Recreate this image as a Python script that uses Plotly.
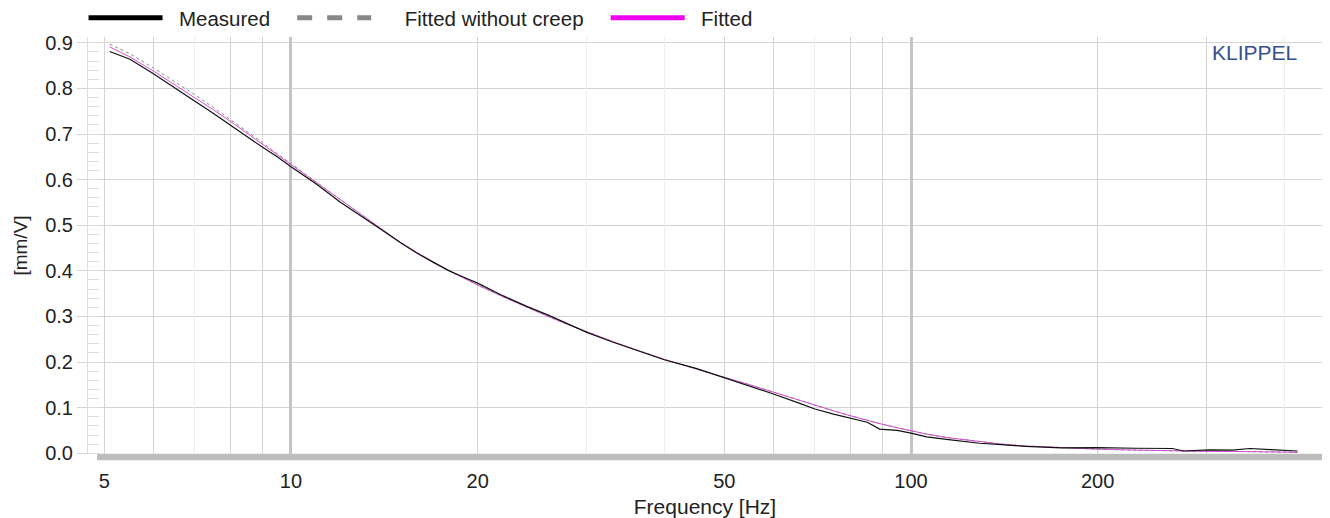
import plotly.graph_objects as go

# frequency points [Hz]
freq = [5.1, 5.5, 6, 6.5, 7, 7.5, 8, 8.5, 9, 9.5, 10, 11, 12, 13, 14, 15, 16, 17, 18, 19,
        20, 22, 24, 26, 28, 30, 33, 36, 40, 45, 50, 55, 60, 66, 70, 75, 80, 85, 89, 95,
        100, 106, 115, 129, 140, 153, 175, 200, 230, 264, 275, 303, 330, 352, 380, 420]

# displacement transfer function [mm/V]
measured = [0.881, 0.864, 0.832, 0.800, 0.772, 0.745, 0.718, 0.694, 0.671, 0.650,
            0.628, 0.590, 0.551, 0.520, 0.490, 0.462, 0.438, 0.418, 0.400, 0.386,
            0.373, 0.345, 0.322, 0.303, 0.283, 0.265, 0.244, 0.226, 0.205, 0.186,
            0.166, 0.148, 0.130, 0.110, 0.097, 0.086, 0.077, 0.068, 0.053, 0.050,
            0.044, 0.036, 0.030, 0.022, 0.019, 0.015, 0.012, 0.0125, 0.011, 0.0105,
            0.005, 0.0075, 0.007, 0.0105, 0.008, 0.005]

fitted = [0.891, 0.869, 0.838, 0.808, 0.780, 0.753, 0.727, 0.702, 0.678, 0.655,
          0.633, 0.593, 0.556, 0.522, 0.491, 0.463, 0.439, 0.418, 0.400, 0.384,
          0.369, 0.343, 0.320, 0.300, 0.282, 0.266, 0.245, 0.227, 0.206, 0.185,
          0.167, 0.150, 0.134, 0.116, 0.105, 0.093, 0.082, 0.072, 0.065, 0.056,
          0.049, 0.042, 0.034, 0.025, 0.020, 0.016, 0.012, 0.009, 0.007, 0.005,
          0.005, 0.004, 0.004, 0.003, 0.003, 0.002]

fitted_no_creep = [0.897, 0.876, 0.845, 0.815, 0.786, 0.758, 0.731, 0.705, 0.681, 0.657,
                   0.635, 0.594, 0.557, 0.522, 0.491, 0.463, 0.439, 0.418, 0.400, 0.384,
                   0.369, 0.343, 0.320, 0.300, 0.282, 0.266, 0.245, 0.227, 0.206, 0.185,
                   0.167, 0.150, 0.134, 0.116, 0.105, 0.093, 0.082, 0.072, 0.065, 0.056,
                   0.049, 0.042, 0.034, 0.025, 0.020, 0.016, 0.012, 0.009, 0.007, 0.005,
                   0.005, 0.004, 0.004, 0.003, 0.003, 0.002]

x_labels = [5, 10, 20, 50, 100, 200]
x_grid = [6, 8, 9, 60, 80, 90, 300]
x_grid_faint = [7, 30, 40, 70, 400]
x_grid_thick = [10, 100]

FONT = "Liberation Sans, Arial, sans-serif"
GRID = "#d4d4d4"
SHADOW = "#bdbdbd"
NB = "\u00a0"

fig = go.Figure()

fig.add_trace(go.Scatter(x=freq, y=fitted_no_creep, mode="lines", showlegend=False,
                         line=dict(color="#8a8a8a", width=1, dash="dot")))
fig.add_trace(go.Scatter(x=freq, y=fitted, mode="lines", showlegend=False,
                         line=dict(color="#d050d0", width=1)))
fig.add_trace(go.Scatter(x=freq, y=measured, mode="lines", showlegend=False,
                         line=dict(color="#111111", width=1.2)))

# legend entries (thick lines as in the original)
fig.add_trace(go.Scatter(x=[None], y=[None], mode="lines",
                         name=NB * 2 + "Measured" + NB * 3,
                         line=dict(color="black", width=5)))
fig.add_trace(go.Scatter(x=[None], y=[None], mode="lines",
                         name=NB * 5 + "Fitted without creep" + NB * 3,
                         line=dict(color="#888888", width=5, dash="dash")))
fig.add_trace(go.Scatter(x=[None], y=[None], mode="lines",
                         name=NB * 2 + "Fitted",
                         line=dict(color="#ee00ee", width=5)))

xrange = [0.6726, 2.6629]

# the page body adds an 8px margin, so the figure is 8px smaller each way
fig.update_layout(
    width=1322, height=510,
    margin=dict(l=80, r=8, t=29, b=64, autoexpand=False),
    paper_bgcolor="white", plot_bgcolor="rgba(0,0,0,0)",
    font=dict(family=FONT, size=20, color="#222222"),
    xaxis=dict(type="log", range=xrange, tickvals=x_labels,
               ticktext=[str(v) for v in x_labels],
               showgrid=True, gridcolor=GRID, gridwidth=1,
               minor=dict(tickvals=x_grid, showgrid=True, gridcolor=GRID, gridwidth=1),
               ticks="outside", ticklen=9, tickcolor="rgba(0,0,0,0)",
               zeroline=False, showline=False,
               title=dict(text="Frequency [Hz]", standoff=10, font=dict(size=21))),
    xaxis2=dict(type="log", range=xrange, overlaying="x", tickvals=x_grid_thick,
                showticklabels=False, showgrid=True, gridcolor="#c4c4c4", gridwidth=3,
                zeroline=False),
    xaxis3=dict(type="log", range=xrange, overlaying="x", tickvals=x_grid_faint,
                showticklabels=False, showgrid=True, gridcolor="#eeeeee", gridwidth=1,
                zeroline=False),
    yaxis=dict(range=[-0.0016, 0.9127], tickvals=[i / 10 for i in range(10)],
               tickformat=".1f", showgrid=True, gridcolor=GRID, gridwidth=1,
               ticks="outside", ticklen=10, tickcolor=GRID,
               minor=dict(dtick=0.02, ticks="inside", ticklen=11, tickcolor="#dddddd",
                          showgrid=False),
               showline=True, linecolor="#dddddd", linewidth=1,
               zeroline=False,
               title=dict(text="[mm/V]", standoff=12, font=dict(size=19))),
    legend=dict(orientation="h", x=-0.0036, xanchor="left", y=1.0455, yanchor="middle",
                itemwidth=74, font=dict(size=20.5), bgcolor="rgba(0,0,0,0)"),
    shapes=[
        dict(type="rect", xref="paper", yref="paper", x0=0.0073, x1=1.0065,
             y0=-0.0147, y1=0.0005, fillcolor=SHADOW, line=dict(width=0), layer="below"),
        dict(type="rect", xref="paper", yref="paper", x0=1.0, x1=1.0065,
             y0=-0.0147, y1=0.98, fillcolor=SHADOW, line=dict(width=0), layer="below"),
    ],
    annotations=[
        dict(text="KLIPPEL", xref="paper", yref="paper", x=0.9815, y=0.995,
             xanchor="right", yanchor="top", showarrow=False,
             font=dict(size=21, color="#34508f")),
    ],
)

# anchor the grid-only axes to the plot
fig.add_trace(go.Scatter(x=[None], y=[None], xaxis="x2", showlegend=False))
fig.add_trace(go.Scatter(x=[None], y=[None], xaxis="x3", showlegend=False))

fig.write_html("out.html")
